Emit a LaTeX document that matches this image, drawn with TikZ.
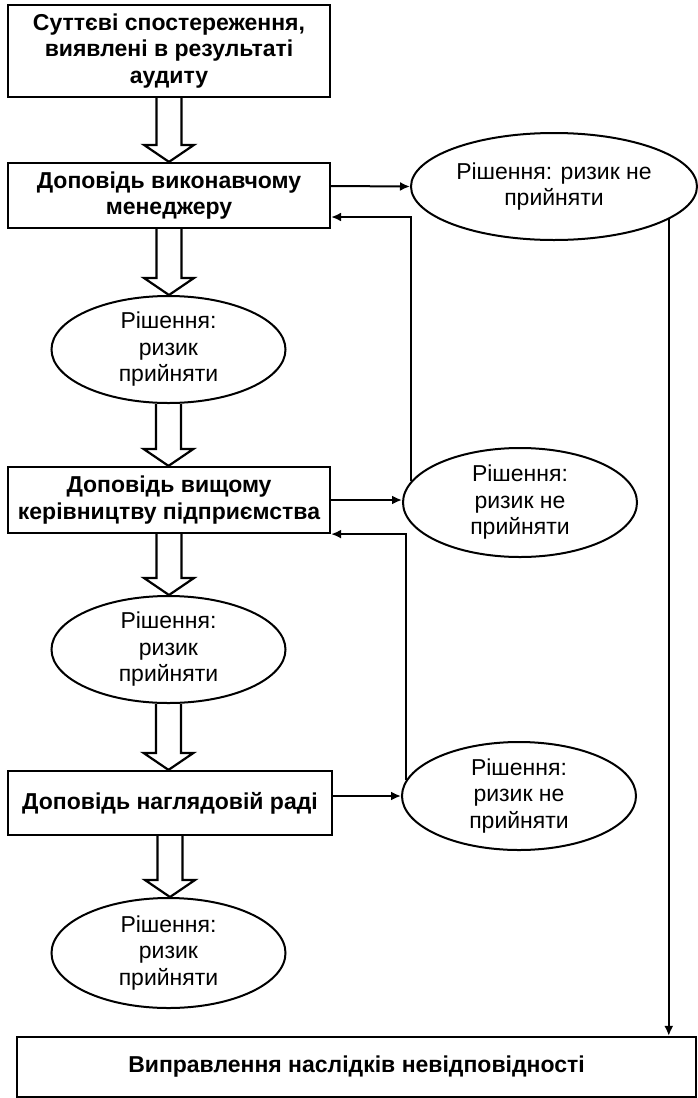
\documentclass[tikz,border=0pt]{standalone}
\usepackage{fontspec}
\setmainfont{Liberation Sans}
\usetikzlibrary{
  shapes.geometric,
  arrows.meta,
  calc}

\begin{document}
\begin{tikzpicture}[x=1pt, y=-1pt]
\tikzset{
  report/.style={
    draw, line width=2.2pt, inner sep=0pt, align=center,
    font=\bfseries\fontsize{23}{26.5}\selectfont},
  decision/.style={
    ellipse, draw, line width=2pt, inner xsep=0pt, inner ysep=-1.5pt,
    align=center, minimum width=234pt, minimum height=107pt,
    font=\fontsize{23}{26.5}\selectfont},
  conn/.style={line width=2pt, -{Latex[length=10pt, width=9pt]}},
  hollow/.style={draw, line width=2.2pt, line join=miter}
}
\useasboundingbox (0,0) rectangle (698,1098);

\node[report, minimum width=322pt, minimum height=92pt] (audit) at (169,51)
  {Суттєві спостереження,\\виявлені в результаті\\аудиту};
\node[report, minimum width=322pt, minimum height=65pt] (manager) at (169,195.5)
  {Доповідь виконавчому\\менеджеру};
\node[decision] (accA) at (168.5,349.5) {Рішення:\\ризик\\прийняти};
\node[report, minimum width=322pt, minimum height=66pt] (topmgmt) at (169,500)
  {Доповідь вищому\\керівництву підприємства};
\node[decision] (accB) at (168.5,649.5) {Рішення:\\ризик\\прийняти};
\node[report, minimum width=324pt, minimum height=64pt] (board) at (170,803)
  {Доповідь наглядовій раді};
\node[decision, minimum height=110pt] (accC) at (168.5,953) {Рішення:\\ризик\\прийняти};

\node[decision, minimum width=286pt] (rejA) at (554,186.5) {Рішення: ризик не\\прийняти};
\node[decision, minimum height=109pt] (rejB) at (520,502.5) {Рішення:\\ризик не\\прийняти};
\node[decision, minimum height=108pt] (rejC) at (519,796) {Рішення:\\ризик не\\прийняти};

\node[report, minimum width=679pt, minimum height=60pt] (fix) at (356.5,1067)
  {Виправлення наслідків невідповідності};

\foreach \from/\to in {audit/manager, manager/accA, accA/topmgmt,
                       topmgmt/accB, accB/board, board/accC}
  \path[hollow] let \p1=(\from.south), \p2=(\to.north) in
    (\x1-12.5pt,\y1) -- (\x1-12.5pt,\y2+17pt) -- (\x1-25pt,\y2+17pt)
    -- (\x1,\y2) -- (\x1+25pt,\y2+17pt) -- (\x1+12.5pt,\y2+17pt)
    -- (\x1+12.5pt,\y1);

\coordinate (mgrback) at ([yshift=-21.5pt]manager.east);
\draw[conn] ([yshift=9.5pt]manager.east) -- (rejA.west);
\draw[conn] (rejB.169) |- (mgrback);
\draw[conn] (topmgmt.east) -- (topmgmt.east -| rejB.west);
\draw[conn] (rejC.172) |- (topmgmt.south east);
\draw[conn] (board.east |- rejC.west) -- (rejC.west);
\draw[conn] (rejA.-16) -- (rejA.-16 |- fix.north);
\end{tikzpicture}
\end{document}
